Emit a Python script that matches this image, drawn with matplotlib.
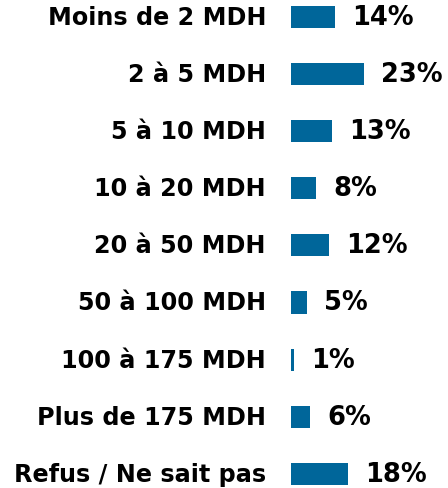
import matplotlib
matplotlib.use("Agg")
import matplotlib.pyplot as plt

categories = ["Moins de 2 MDH", "2 à 5 MDH", "5 à 10 MDH", "10 à 20 MDH",
              "20 à 50 MDH", "50 à 100 MDH", "100 à 175 MDH",
              "Plus de 175 MDH", "Refus / Ne sait pas"]
values = [14, 23, 13, 8, 12, 5, 1, 6, 18]

bar_color = "#00669a"

fig = plt.figure(figsize=(4.48, 4.89), dpi=100)
ax = fig.add_axes([291 / 448, 0, 1 - 291 / 448, 1])

y = list(range(len(categories)))
ax.barh(y, values, height=0.386, color=bar_color)
ax.set_xlim(0, 157 / 3.17)
ax.set_ylim(8.249, -0.315)
ax.axis("off")

for yi, v in zip(y, values):
    ax.text(v + 17 / 3.17, yi, f"{v}%", va="center", ha="left",
            fontsize=18.5, fontweight="bold", color="black")

for yi, cat in zip(y, categories):
    ax.annotate(cat, xy=(0, yi), xycoords="data", xytext=(-25, 0),
                textcoords="offset pixels", ha="right", va="center",
                fontsize=17.2, fontweight="bold", color="black",
                annotation_clip=False)

fig.savefig("out.png", dpi=100)
